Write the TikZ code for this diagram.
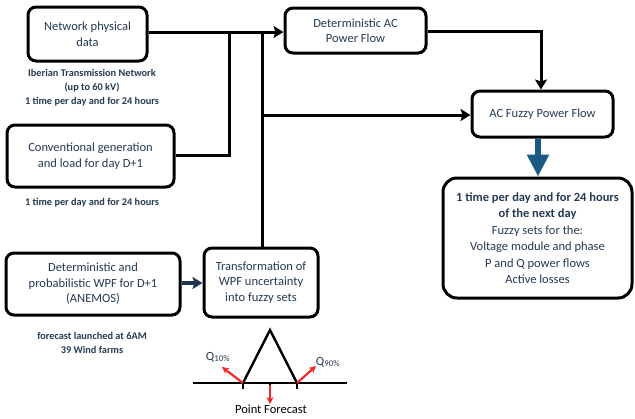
\documentclass[tikz,border=0pt]{standalone}
\usepackage{fontspec}
\setmainfont{Carlito}
\usetikzlibrary{arrows.meta}
\definecolor{txt}{HTML}{243B53}
\definecolor{navy}{HTML}{1F3550}
\definecolor{bluearr}{HTML}{1B5A82}
\definecolor{redarr}{HTML}{EE2A2A}
\begin{document}
\begin{tikzpicture}[x=1pt,y=-1pt,
  box/.style={draw=black,line width=3pt,rounded corners=8pt,fill=white,
    text=txt,align=center,font=\fontsize{12.5}{15.5}\selectfont,inner sep=0pt},
  note/.style={text=txt,align=center,font=\bfseries\fontsize{10.3}{14}\selectfont},
  conn/.style={draw=black,line width=3pt},
  arr/.style={conn,-{Stealth[length=10pt,width=12pt,inset=2pt]}}]
\useasboundingbox (0,0) rectangle (635,418);
% boxes
\node[box,minimum width=119pt,minimum height=54pt] (npd) at (87.5,34) {Network physical\\data};
\node[box,minimum width=167pt,minimum height=62pt] (conv) at (90.5,156) {Conventional generation\\and load for day D+1};
\node[box,minimum width=174pt,minimum height=62pt] (wpf) at (93,284) {Deterministic and\\probabilistic WPF for D+1\\(ANEMOS)};
\node[box,minimum width=114pt,minimum height=69pt] (trans) at (261,282.5) {Transformation of\\WPF uncertainty\\into fuzzy sets};
\node[box,minimum width=141pt,minimum height=45pt] (dac) at (355.5,30.5) {Deterministic AC\\Power Flow};
\node[box,minimum width=141pt,minimum height=46pt] (fuzzy) at (542.5,114) {AC Fuzzy Power Flow};
\node[box,minimum width=189pt,minimum height=120pt,rounded corners=14pt,font=\fontsize{12.5}{16.5}\selectfont] (res) at (537.5,238)
  {\textbf{1 time per day and for 24 hours}\\\textbf{of the next day}\\Fuzzy sets for the:\\Voltage module and phase\\P and Q power flows\\Active losses};
% notes
\node[note] (n1) at (92,88) {Iberian Transmission Network\\(up to 60 kV)\\1 time per day and for 24 hours};
\node[note] (n2) at (92,203) {1 time per day and for 24 hours};
\node[note] (n3) at (92,343) {forecast launched at 6AM\\39 Wind farms};
% connectors
\coordinate (j1) at (229,32);
\coordinate (j2) at (262,32);
\coordinate (j3) at (262,115);
\draw[arr] (npd.east |- j1) -- (dac.west |- j1);
\draw[conn] (conv.east |- 0,155) -| (j1);
\draw[conn] (trans.north -| j2) -- (j2);
\draw[arr] (j3) -- (fuzzy.west |- j3);
\draw[arr] (dac.east |- 0,31) -| (fuzzy.north -| 541,0);
\draw[draw=navy,line width=3.2pt,-{Stealth[length=10pt,width=12pt,inset=2pt]}] (wpf.east |- 0,283) -- (trans.west |- 0,283);
\draw[draw=bluearr,line width=6pt,-{Triangle[length=22pt,width=21pt]}] (fuzzy.south -| 538,0) -- (res.north -| 538,0);
% fuzzy set sketch
\coordinate (b0) at (193,383);
\coordinate (b1) at (347,383);
\coordinate (pl) at (243,383);
\coordinate (pt) at (270,330);
\coordinate (pr) at (297,383);
\coordinate (pm) at (270,383);
\draw[line width=2.2pt] (b0) -- (b1);
\draw[line width=2.4pt,line join=miter] (pl) -- (pt) -- (pr);
\foreach \p in {pl,pm,pr} \draw[line width=2.2pt] (\p) -- ++(0,6);
\coordinate (q1) at (222,367);
\coordinate (q9) at (316,366);
\coordinate (pf) at (270,404);
\draw[redarr,line width=2.2pt,-{Stealth[length=7pt,width=7pt]}] (pl) -- (q1);
\draw[redarr,line width=2.2pt,-{Stealth[length=7pt,width=7pt]}] (pr) -- (q9);
\draw[redarr,line width=2.2pt,-{Stealth[length=7pt,width=7pt]}] (pm) ++(0,2) -- (pf);
\node[text=txt,font=\fontsize{12.5}{14}\selectfont] (lq1) at (218,357) {Q\textsubscript{10\%}};
\node[text=txt,font=\fontsize{12.5}{14}\selectfont] (lq9) at (328,362) {Q\textsubscript{90\%}};
\node[text=black,font=\fontsize{12.5}{14}\selectfont] (lpf) at (271,409) {Point Forecast};
\end{tikzpicture}
\end{document}
